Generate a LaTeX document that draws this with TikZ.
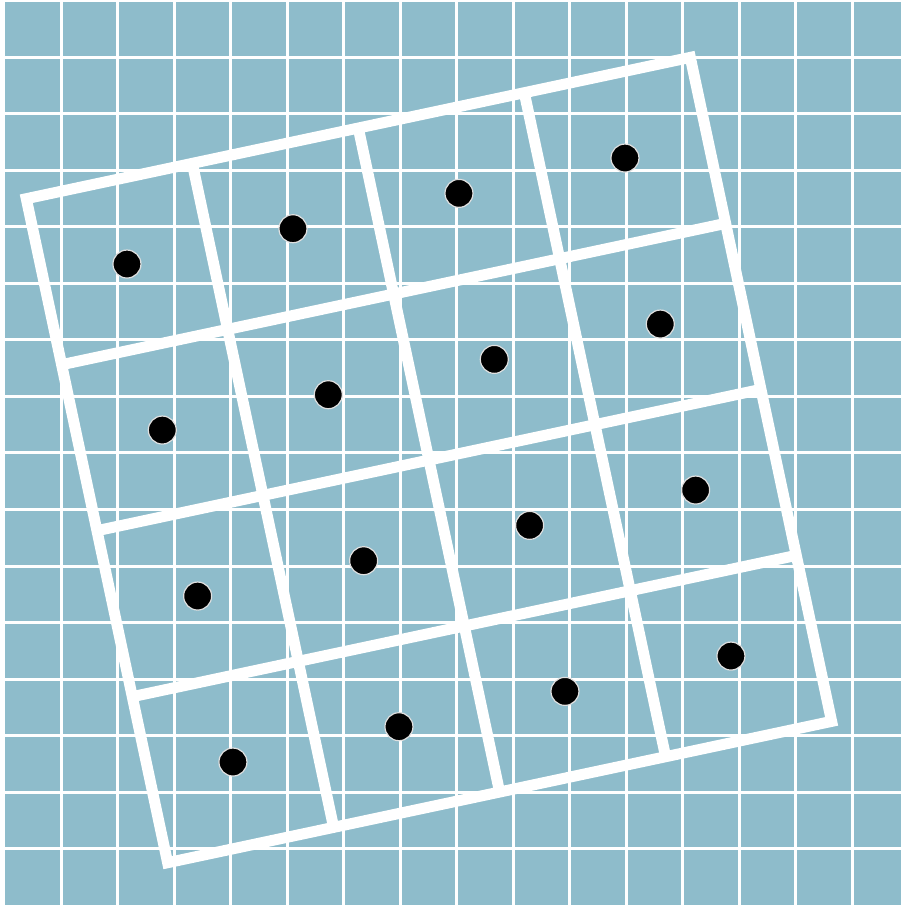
\documentclass[tikz,border=0pt]{standalone}
\usetikzlibrary{calc}
\definecolor{fieldblue}{RGB}{142,188,203}
\begin{document}
\begin{tikzpicture}[x=0.5pt,y=-0.5pt,line join=miter,
  thin grid/.style={white,line width=1.5pt},
  frame line/.style={white,line width=5.5pt},
  sample dot/.style={fill=black,draw=white!88!black,line width=0.6pt}]
  % page with the blue field and its fine grid
  \useasboundingbox (0,0) rectangle (901,905);
  \fill[white] (0,0) rectangle (901,905);
  \fill[fieldblue] (5,2) rectangle (901,905);
  \foreach \k in {1,...,15}{
    \draw[thin grid] ({4.5+56.5*\k},2) -- ({4.5+56.5*\k},905);
    \draw[thin grid] (5,{0.5+56.55*\k}) -- (901,{0.5+56.55*\k});
  }
  % coarse 4x4 grid, turned by 12 degrees
  \coordinate (TL) at (26.3,198.7);
  \coordinate (U) at (166,-35.33);
  \coordinate (V) at (35.33,166);
  \coordinate (TR) at ($(TL)+4*(U)$);
  \coordinate (BL) at ($(TL)+4*(V)$);
  \coordinate (BR) at ($(TR)+4*(V)$);
  \draw[frame line] (TL)--(TR)--(BR)--(BL)--cycle;
  \foreach \i in {1,2,3}{
    \draw[frame line] ($(TL)+\i*(U)$) -- ($(BL)+\i*(U)$);
    \draw[frame line] ($(TL)+\i*(V)$) -- ($(TR)+\i*(V)$);
  }
  % one sample in the middle of each coarse cell
  \foreach \i in {0,...,3}{
    \foreach \j in {0,...,3}{
      \filldraw[sample dot] ($(TL)+{\i+0.5}*(U)+{\j+0.5}*(V)$) circle[radius=7pt];
    }
  }
\end{tikzpicture}
\end{document}
